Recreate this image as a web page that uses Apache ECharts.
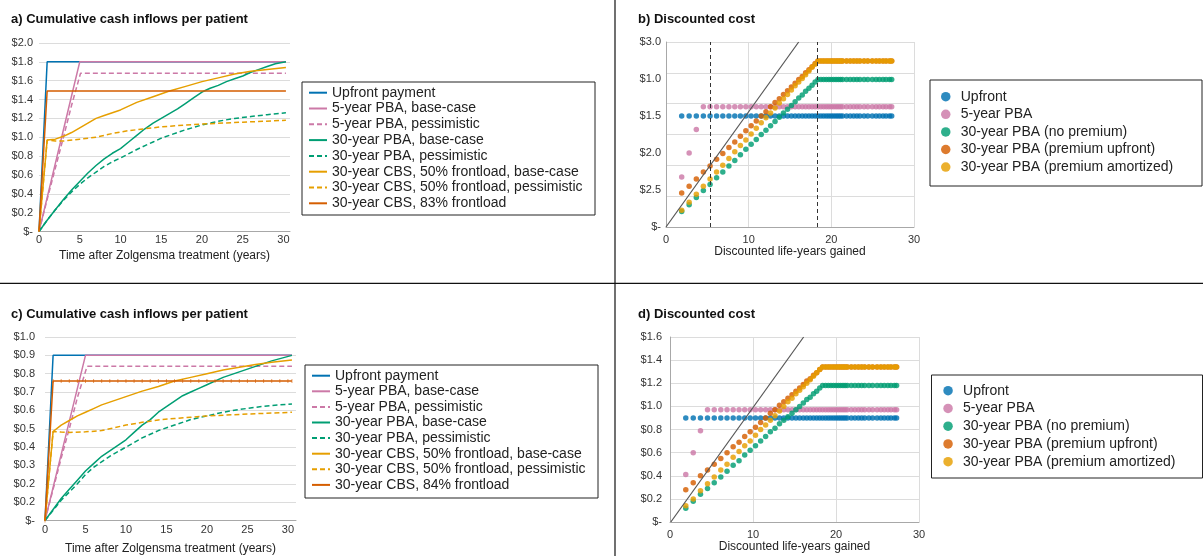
<!DOCTYPE html>
<html>
<head>
<meta charset="utf-8">
<script src="https://cdn.jsdelivr.net/npm/echarts@6/dist/echarts.min.js"></script>
<style>
html,body{margin:0;padding:0;background:#fff;}
#chart{width:1203px;height:556px;}
</style>
</head>
<body>
<div id="chart"></div>
<script>
// ---------- Tick labels (as printed in the reference) ----------
const aTickLabels = ['$-','$0.2','$0.4','$0.6','$0.8','$1.0','$1.2','$1.4','$1.6','$1.8','$2.0'];
const bTickLabels = ['$-','$2.5','$2.0','$1.5','$1.0','$3.0'];
const cTickLabels = ['$-','$0.2','$0.2','$0.3','$0.4','$0.5','$0.6','$0.7','$0.8','$0.9','$1.0'];
const dTickLabels = ['$-','$0.2','$0.4','$0.6','$0.8','$1.0','$1.2','$1.4','$1.6'];

// ---------- Panel a: cumulative cash inflows (years, $) ----------
const aUpfront   = [[0,0],[1,1.8],[30.3,1.8]];
const aPba5Base  = [[0,0],[1,0.36],[2,0.72],[3,1.08],[4,1.44],[5,1.8],[30.3,1.8]];
const aPba5Pess  = [[0,0],[1,0.34],[2,0.67],[3,1.0],[4,1.34],[5.1,1.68],[30.3,1.68]];
const aPba30Base = [[0,0],[1,0.12],[2,0.23],[3,0.34],[4,0.44],[5,0.53],[6,0.62],[7,0.7],[8,0.77],[9,0.83],[10,0.88],[11,0.95],[12,1.02],[13,1.09],[14,1.15],[15,1.2],[16,1.25],[17,1.3],[18,1.36],[19,1.42],[20,1.48],[21,1.52],[22,1.55],[23,1.59],[24,1.62],[25,1.65],[26,1.69],[27,1.72],[28,1.75],[29,1.78],[30.3,1.8]];
const aPba30Pess = [[0,0],[1,0.12],[2,0.23],[3,0.33],[4,0.42],[5,0.5],[6,0.57],[7,0.63],[8,0.69],[9,0.74],[10,0.78],[12,0.87],[14,0.95],[15,0.99],[16,1.02],[18,1.08],[20,1.13],[22,1.17],[24,1.2],[26,1.22],[28,1.24],[30.3,1.26]];
const aCbsBase   = [[0,0],[1,0.97],[2,0.98],[3,1.01],[4,1.05],[5,1.1],[6,1.15],[7,1.2],[8,1.23],[9,1.26],[10,1.29],[12,1.37],[14,1.43],[16,1.49],[18,1.54],[20,1.59],[22,1.63],[24,1.67],[26,1.7],[28,1.72],[30.3,1.74]];
const aCbsPess   = [[0,0],[1,0.97],[2,0.96],[3,0.96],[5,0.98],[7,1.0],[9,1.04],[11,1.07],[13,1.09],[15,1.11],[18,1.13],[20,1.14],[25,1.16],[30.3,1.18]];
const aCbs83     = [[0,0],[1,1.49],[30.3,1.49]];

// ---------- Panel c ----------
const cUpfront   = [[0,0],[1,0.9],[30.5,0.9]];
const cPba5Base  = [[0,0],[1,0.18],[2,0.36],[3,0.54],[4,0.72],[5,0.9],[30.5,0.9]];
const cPba5Pess  = [[0,0],[1,0.17],[2,0.34],[3,0.5],[4,0.67],[5.2,0.84],[30.5,0.84]];
const cPba30Base = [[0,0],[1,0.06],[2,0.12],[3,0.17],[4,0.22],[5,0.27],[6,0.31],[7,0.35],[8,0.38],[9,0.41],[10,0.44],[11,0.48],[12,0.52],[13,0.55],[14,0.59],[15,0.62],[16,0.65],[17,0.68],[18,0.7],[19,0.72],[20,0.74],[22,0.78],[24,0.81],[26,0.84],[28,0.87],[30.5,0.9]];
const cPba30Pess = [[0,0],[2,0.11],[4,0.2],[5,0.25],[6,0.29],[8,0.35],[10,0.4],[12,0.45],[14,0.49],[16,0.52],[18,0.55],[20,0.57],[22,0.59],[24,0.605],[26,0.617],[28,0.627],[30.5,0.635]];
const cCbsBase   = [[0,0],[1,0.485],[2,0.52],[3,0.545],[4,0.57],[5,0.59],[6,0.61],[7,0.63],[8,0.645],[10,0.675],[12,0.705],[14,0.73],[16,0.76],[18,0.78],[20,0.8],[22,0.82],[24,0.835],[26,0.85],[28,0.862],[30.5,0.875]];
const cCbsPess   = [[0,0],[1,0.485],[2,0.482],[3,0.48],[5,0.483],[7,0.49],[8,0.5],[10,0.52],[12,0.535],[14,0.548],[16,0.556],[18,0.563],[20,0.57],[25,0.58],[30.5,0.59]];
const cCbs84     = [[0,0],[1,0.76],[2,0.76],[3,0.76],[4,0.76],[5,0.76],[6,0.76],[7,0.76],[8,0.76],[9,0.76],[10,0.76],
                    [11,0.76],[12,0.76],[13,0.76],[14,0.76],[15,0.76],[16,0.76],[17,0.76],[18,0.76],[19,0.76],[20,0.76],
                    [21,0.76],[22,0.76],[23,0.76],[24,0.76],[25,0.76],[26,0.76],[27,0.76],[28,0.76],[29,0.76],[30,0.76],[30.5,0.76]];

// ---------- Panels b & d: discounted life-years (shared x) ----------
const lifeYears = [
  1.90,2.80,3.67,4.52,5.33,6.12,6.87,7.61,8.32,9.00,
  9.66,10.30,10.92,11.52,12.09,12.65,13.19,13.71,14.21,14.70,
  15.17,15.62,16.06,16.48,16.89,17.29,17.67,18.04,18.39,
  18.74,19.07,19.39,19.70,20.00,20.29,20.57,20.84,
  21.10,21.36,21.84,22.28,22.70,23.09,23.46,23.96,
  24.41,24.95,25.41,25.82,26.25,26.62,27.04,27.30
];
// panel b discounted cost
const bUpfront = [
  1.8,1.8,1.8,1.8,1.8,1.8,1.8,1.8,1.8,1.8,
  1.8,1.8,1.8,1.8,1.8,1.8,1.8,1.8,1.8,1.8,
  1.8,1.8,1.8,1.8,1.8,1.8,1.8,1.8,1.8,
  1.8,1.8,1.8,1.8,1.8,1.8,1.8,1.8,
  1.8,1.8,1.8,1.8,1.8,1.8,1.8,1.8,
  1.8,1.8,1.8,1.8,1.8,1.8,1.8,1.8
];
const bPba5 = [
  0.81,1.20,1.58,1.95,1.95,1.95,1.95,1.95,1.95,1.95,
  1.95,1.95,1.95,1.95,1.95,1.95,1.95,1.95,1.95,1.95,
  1.95,1.95,1.95,1.95,1.95,1.95,1.95,1.95,1.95,
  1.95,1.95,1.95,1.95,1.95,1.95,1.95,1.95,
  1.95,1.95,1.95,1.95,1.95,1.95,1.95,1.95,
  1.95,1.95,1.95,1.95,1.95,1.95,1.95,1.95
];
const bPba30 = [
  0.25,0.36,0.48,0.59,0.69,0.80,0.89,0.99,1.08,1.17,
  1.26,1.34,1.42,1.50,1.57,1.64,1.71,1.78,1.85,1.91,
  1.97,2.03,2.09,2.14,2.20,2.25,2.30,2.35,2.39,
  2.39,2.39,2.39,2.39,2.39,2.39,2.39,2.39,
  2.39,2.39,2.39,2.39,2.39,2.39,2.39,2.39,
  2.39,2.39,2.39,2.39,2.39,2.39,2.39,2.39
];
const bPremUp = [
  0.55,0.66,0.78,0.89,0.99,1.10,1.19,1.29,1.38,1.47,
  1.56,1.64,1.72,1.80,1.87,1.95,2.02,2.08,2.15,2.21,
  2.27,2.33,2.39,2.44,2.50,2.55,2.60,2.65,2.69,
  2.69,2.69,2.69,2.69,2.69,2.69,2.69,2.69,
  2.69,2.69,2.69,2.69,2.69,2.69,2.69,2.69,
  2.69,2.69,2.69,2.69,2.69,2.69,2.69,2.69
];
const bPremAm = [
  0.27,0.40,0.53,0.66,0.78,0.89,1.00,1.11,1.22,1.32,
  1.41,1.51,1.60,1.69,1.77,1.85,1.93,2.01,2.08,2.15,
  2.22,2.29,2.35,2.41,2.47,2.53,2.59,2.64,2.69,
  2.69,2.69,2.69,2.69,2.69,2.69,2.69,2.69,
  2.69,2.69,2.69,2.69,2.69,2.69,2.69,2.69,
  2.69,2.69,2.69,2.69,2.69,2.69,2.69,2.69
];
// panel d discounted cost
const dUpfront = [
  0.9,0.9,0.9,0.9,0.9,0.9,0.9,0.9,0.9,0.9,
  0.9,0.9,0.9,0.9,0.9,0.9,0.9,0.9,0.9,0.9,
  0.9,0.9,0.9,0.9,0.9,0.9,0.9,0.9,0.9,
  0.9,0.9,0.9,0.9,0.9,0.9,0.9,0.9,
  0.9,0.9,0.9,0.9,0.9,0.9,0.9,0.9,
  0.9,0.9,0.9,0.9,0.9,0.9,0.9,0.9
];
const dPba5 = [
  0.41,0.60,0.79,0.97,0.97,0.97,0.97,0.97,0.97,0.97,
  0.97,0.97,0.97,0.97,0.97,0.97,0.97,0.97,0.97,0.97,
  0.97,0.97,0.97,0.97,0.97,0.97,0.97,0.97,0.97,
  0.97,0.97,0.97,0.97,0.97,0.97,0.97,0.97,
  0.97,0.97,0.97,0.97,0.97,0.97,0.97,0.97,
  0.97,0.97,0.97,0.97,0.97,0.97,0.97,0.97
];
const dPba30 = [
  0.12,0.18,0.24,0.29,0.34,0.39,0.44,0.49,0.53,0.58,
  0.62,0.66,0.70,0.74,0.78,0.81,0.85,0.88,0.91,0.94,
  0.97,1.00,1.03,1.06,1.08,1.11,1.13,1.16,1.18,
  1.18,1.18,1.18,1.18,1.18,1.18,1.18,1.18,
  1.18,1.18,1.18,1.18,1.18,1.18,1.18,1.18,
  1.18,1.18,1.18,1.18,1.18,1.18,1.18,1.18
];
const dPremUp = [
  0.28,0.34,0.40,0.45,0.50,0.55,0.60,0.65,0.69,0.74,
  0.78,0.82,0.86,0.90,0.94,0.97,1.01,1.04,1.07,1.10,
  1.13,1.16,1.19,1.22,1.24,1.27,1.29,1.32,1.34,
  1.34,1.34,1.34,1.34,1.34,1.34,1.34,1.34,
  1.34,1.34,1.34,1.34,1.34,1.34,1.34,1.34,
  1.34,1.34,1.34,1.34,1.34,1.34,1.34,1.34
];
const dPremAm = [
  0.14,0.20,0.27,0.33,0.39,0.45,0.50,0.56,0.61,0.66,
  0.70,0.75,0.80,0.84,0.88,0.92,0.96,1.00,1.04,1.07,
  1.11,1.14,1.17,1.20,1.23,1.26,1.29,1.32,1.34,
  1.34,1.34,1.34,1.34,1.34,1.34,1.34,1.34,
  1.34,1.34,1.34,1.34,1.34,1.34,1.34,1.34,
  1.34,1.34,1.34,1.34,1.34,1.34,1.34,1.34
];
// cost-effectiveness threshold lines and survival markers
const bThreshold = [[0,0],[16.05,3.0]];
const dThreshold = [[0.1,0],[16.1,1.6]];
const bMarkYears = [5.36, 18.3];

const aNames = ['Upfront payment','5-year PBA, base-case','5-year PBA, pessimistic','30-year PBA, base-case','30-year PBA, pessimistic','30-year CBS, 50% frontload, base-case','30-year CBS, 50% frontload, pessimistic','30-year CBS, 83% frontload'];
const cNames = ['Upfront payment','5-year PBA, base-case','5-year PBA, pessimistic','30-year PBA, base-case','30-year PBA, pessimistic','30-year CBS, 50% frontload, base-case','30-year CBS, 50% frontload, pessimistic','30-year CBS, 84% frontload'];
const sNames = ['Upfront','5-year PBA','30-year PBA (no premium)','30-year PBA (premium upfront)','30-year PBA (premium amortized)'];

// ---------- styling ----------
const COL = {blue:'#0072B2', pink:'#CC79A7', green:'#009E73', verm:'#D55E00', orange:'#E69F00'};
const FONT = '"Liberation Sans", Arial, sans-serif';
const tickFont = {fontFamily: FONT, fontSize: 11, color: '#333'};
const nameFont = {fontFamily: FONT, fontSize: 12, color: '#222'};
const grid = '#dcdcdc';
const axisCol = '#a8a8a8';
const legendText = {fontFamily:FONT, fontSize:14, color:'#222', lineHeight:14};

const chart = echarts.init(document.getElementById('chart'), null, {renderer:'canvas'});

function ln(name, data, color, dashed, xi, yi) {
  return {type:'line', name, data, xAxisIndex:xi, yAxisIndex:yi, symbol:'none',
    lineStyle:{color, width:1.5, type: dashed ? [5,3] : 'solid'}, itemStyle:{color},
    animation:false, z:3};
}
function sc(name, ys, color, xi, yi) {
  return {type:'scatter', name, data: lifeYears.map((x,i)=>[x, ys[i]]),
    xAxisIndex:xi, yAxisIndex:yi, symbolSize:5.5,
    itemStyle:{color, opacity:0.82}, animation:false, z:2};
}

function xAx(gi, max, name, gap, margin, split) {
  return {gridIndex:gi, type:'value', min:0, max, interval:5*(split?2:1),
    name, nameLocation:'middle', nameGap:gap, nameTextStyle:nameFont,
    axisLine:{show:true, lineStyle:{color:axisCol, width:1}}, axisTick:{show:false},
    axisLabel:Object.assign({margin, showMaxLabel: split ? true : false}, tickFont),
    splitLine:{show:split, lineStyle:{color:grid, width:1}}};
}

const cRed = ln(cNames[7], cCbs84, COL.verm, false, 2, 3);
cRed.symbol = 'rect';
cRed.symbolSize = [1, 4];
cRed.showSymbol = true;
cRed.itemStyle = {color: COL.verm, opacity: 0.6};

const option = {
  animation:false,
  textStyle:{fontFamily: FONT},
  grid:[
    {left:39, top:43, width:251, height:188.5},
    {left:666, top:42, width:248, height:185},
    {left:45, top:337, width:251, height:188},
    {left:670, top:337, width:249, height:185}
  ],
  xAxis:[
    xAx(0, 30.8, 'Time after Zolgensma treatment (years)', 18, 3, false),
    xAx(1, 30, 'Discounted life-years gained', 19, 7, true),
    xAx(2, 31, 'Time after Zolgensma treatment (years)', 22.5, 4, false),
    xAx(3, 30, 'Discounted life-years gained', 17, 7, true)
  ],
  yAxis:[
    {gridIndex:0, type:'value', min:0, max:2.0, interval:0.2,
      axisLine:{show:false}, axisTick:{show:false},
      axisLabel:Object.assign({margin:6, formatter:v=>aTickLabels[Math.round(v/0.2)]}, tickFont),
      splitLine:{show:true, lineStyle:{color:grid}}},
    {gridIndex:1, type:'value', min:0, max:3.0, interval:0.5,
      axisLine:{show:true, lineStyle:{color:axisCol}}, axisTick:{show:false},
      axisLabel:{show:false}, splitLine:{show:true, lineStyle:{color:grid}}},
    {gridIndex:1, type:'value', min:0, max:5, interval:1, position:'left',
      axisLine:{show:false}, axisTick:{show:false}, splitLine:{show:false},
      axisLabel:Object.assign({margin:5, formatter:v=>bTickLabels[Math.round(v)]}, tickFont)},
    {gridIndex:2, type:'value', min:0, max:1.0, interval:0.1,
      axisLine:{show:false}, axisTick:{show:false},
      axisLabel:Object.assign({margin:10, formatter:v=>cTickLabels[Math.round(v*10)]}, tickFont),
      splitLine:{show:true, lineStyle:{color:grid}}},
    {gridIndex:3, type:'value', min:0, max:1.6, interval:0.2,
      axisLine:{show:true, lineStyle:{color:axisCol}}, axisTick:{show:false},
      axisLabel:Object.assign({margin:8, formatter:v=>dTickLabels[Math.round(v/0.2)]}, tickFont),
      splitLine:{show:true, lineStyle:{color:grid}}}
  ],
  legend:[
    {data:aNames, orient:'vertical', left:308, top:85.7, padding:0, itemWidth:18, itemHeight:2, itemGap:1.8,
      itemStyle:{opacity:0}, textStyle:legendText, selectedMode:false},
    {data:cNames, orient:'vertical', left:311, top:368.7, padding:0, itemWidth:18, itemHeight:2, itemGap:1.6,
      itemStyle:{opacity:0}, textStyle:legendText, selectedMode:false},
    {data:sNames.map(n=>({name:n, icon:'circle'})), orient:'vertical', left:941, top:89.7, padding:0, itemWidth:20, itemHeight:9.5, itemGap:3.6,
      textStyle:legendText, selectedMode:false},
    {data:sNames.map(n=>({name:n, icon:'circle'})), orient:'vertical', left:943.3, top:383.7, padding:0, itemWidth:20, itemHeight:9.5, itemGap:3.75,
      textStyle:legendText, selectedMode:false}
  ],
  series:[
    ln(aNames[0], aUpfront, COL.blue, false, 0, 0),
    ln(aNames[1], aPba5Base, COL.pink, false, 0, 0),
    ln(aNames[2], aPba5Pess, COL.pink, true, 0, 0),
    ln(aNames[3], aPba30Base, COL.green, false, 0, 0),
    ln(aNames[4], aPba30Pess, COL.green, true, 0, 0),
    ln(aNames[5], aCbsBase, COL.orange, false, 0, 0),
    ln(aNames[6], aCbsPess, COL.orange, true, 0, 0),
    ln(aNames[7], aCbs83, COL.verm, false, 0, 0),

    ln(cNames[0], cUpfront, COL.blue, false, 2, 3),
    ln(cNames[1], cPba5Base, COL.pink, false, 2, 3),
    ln(cNames[2], cPba5Pess, COL.pink, true, 2, 3),
    ln(cNames[3], cPba30Base, COL.green, false, 2, 3),
    ln(cNames[4], cPba30Pess, COL.green, true, 2, 3),
    ln(cNames[5], cCbsBase, COL.orange, false, 2, 3),
    ln(cNames[6], cCbsPess, COL.orange, true, 2, 3),
    cRed,

    sc(sNames[0], bUpfront, COL.blue, 1, 1),
    sc(sNames[1], bPba5, COL.pink, 1, 1),
    sc(sNames[2], bPba30, COL.green, 1, 1),
    sc(sNames[3], bPremUp, COL.verm, 1, 1),
    sc(sNames[4], bPremAm, COL.orange, 1, 1),
    {type:'line', data:bThreshold, xAxisIndex:1, yAxisIndex:1, symbol:'none', z:5,
      lineStyle:{color:'#555', width:1.2}, animation:false, silent:true,
      markLine:{silent:true, symbol:'none', label:{show:false},
        lineStyle:{color:'#333', width:1, type:[4,3]},
        data: bMarkYears.map(v=>({xAxis:v}))}},

    sc(sNames[0], dUpfront, COL.blue, 3, 4),
    sc(sNames[1], dPba5, COL.pink, 3, 4),
    sc(sNames[2], dPba30, COL.green, 3, 4),
    sc(sNames[3], dPremUp, COL.verm, 3, 4),
    sc(sNames[4], dPremAm, COL.orange, 3, 4),
    {type:'line', data:dThreshold, xAxisIndex:3, yAxisIndex:4, symbol:'none', z:5,
      lineStyle:{color:'#555', width:1.2}, animation:false, silent:true}
  ],
  graphic:[
    {type:'line', shape:{x1:615, y1:0, x2:615, y2:556}, style:{stroke:'#111', lineWidth:1.2}},
    {type:'line', shape:{x1:0, y1:283.3, x2:1203, y2:283.3}, style:{stroke:'#111', lineWidth:1.2}},
    {type:'rect', shape:{x:302, y:82, width:293, height:133}, style:{fill:'none', stroke:'#222', lineWidth:1}},
    {type:'rect', shape:{x:305, y:365, width:293, height:133}, style:{fill:'none', stroke:'#222', lineWidth:1}},
    {type:'rect', shape:{x:930, y:80, width:272, height:106}, style:{fill:'none', stroke:'#222', lineWidth:1}},
    {type:'rect', shape:{x:931.5, y:375, width:271, height:103}, style:{fill:'none', stroke:'#222', lineWidth:1}},
    {type:'text', x:11, y:19.5, style:{text:'a) Cumulative cash inflows per patient', font:'bold 13px '+FONT, fill:'#111', verticalAlign:'middle'}},
    {type:'text', x:638, y:19.5, style:{text:'b) Discounted cost', font:'bold 13px '+FONT, fill:'#111', verticalAlign:'middle'}},
    {type:'text', x:11, y:314, style:{text:'c) Cumulative cash inflows per patient', font:'bold 13px '+FONT, fill:'#111', verticalAlign:'middle'}},
    {type:'text', x:638, y:314, style:{text:'d) Discounted cost', font:'bold 13px '+FONT, fill:'#111', verticalAlign:'middle'}}
  ]
};
chart.setOption(option);
</script>
</body>
</html>
